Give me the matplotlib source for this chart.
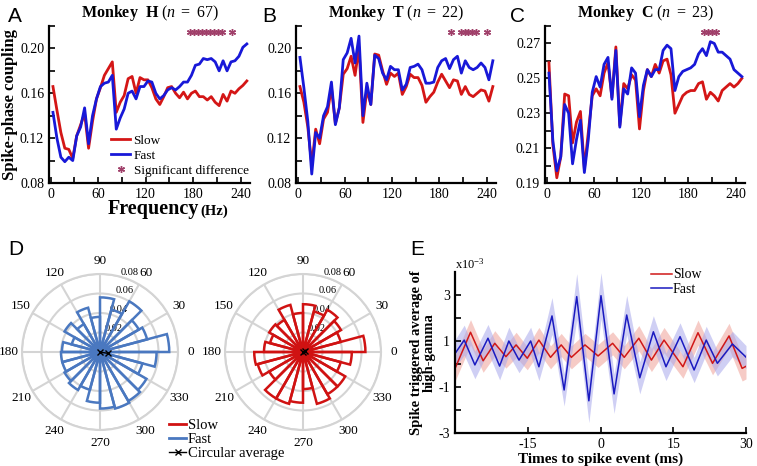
import matplotlib
matplotlib.use('Agg')
import matplotlib.pyplot as plt
import numpy as np
from matplotlib.lines import Line2D

# ###
# Data
# ###
freq = np.arange(3, 250, 5)

slow_h = [0.166, 0.145, 0.125, 0.111, 0.110, 0.102, 0.122, 0.132, 0.142, 0.111,
          0.135, 0.155, 0.165, 0.176, 0.182, 0.188, 0.143, 0.152, 0.158, 0.173,
          0.175, 0.160, 0.174, 0.172, 0.172, 0.165, 0.155, 0.150, 0.157, 0.165,
          0.166, 0.160, 0.156, 0.161, 0.155, 0.160, 0.162, 0.157, 0.157, 0.154,
          0.157, 0.152, 0.149, 0.159, 0.153, 0.162, 0.160, 0.164, 0.167, 0.171]
fast_h = [0.143, 0.120, 0.103, 0.099, 0.103, 0.100, 0.122, 0.130, 0.147, 0.115,
          0.140, 0.155, 0.166, 0.169, 0.170, 0.176, 0.128, 0.138, 0.146, 0.160,
          0.162, 0.155, 0.166, 0.166, 0.171, 0.170, 0.160, 0.155, 0.158, 0.163,
          0.165, 0.163, 0.166, 0.170, 0.170, 0.176, 0.185, 0.186, 0.191, 0.190,
          0.191, 0.188, 0.180, 0.189, 0.180, 0.188, 0.189, 0.193, 0.201, 0.204]
sig_h = [176, 181, 186, 191, 196, 201, 206, 211, 216, 229]

slow_t = [0.166, 0.152, 0.130, 0.096, 0.128, 0.115, 0.137, 0.143, 0.165, 0.133,
          0.147, 0.177, 0.182, 0.193, 0.176, 0.201, 0.134, 0.163, 0.150, 0.195,
          0.194, 0.180, 0.168, 0.178, 0.175, 0.178, 0.159, 0.166, 0.177, 0.174,
          0.174, 0.167, 0.152, 0.157, 0.161, 0.170, 0.177, 0.171, 0.165, 0.172,
          0.171, 0.159, 0.166, 0.159, 0.157, 0.160, 0.163, 0.162, 0.153, 0.166]
fast_t = [0.192, 0.165, 0.135, 0.088, 0.125, 0.120, 0.140, 0.148, 0.170, 0.132,
          0.147, 0.190, 0.196, 0.209, 0.187, 0.211, 0.140, 0.169, 0.150, 0.194,
          0.191, 0.178, 0.172, 0.184, 0.181, 0.181, 0.163, 0.168, 0.183, 0.184,
          0.186, 0.181, 0.169, 0.169, 0.170, 0.183, 0.189, 0.191, 0.182, 0.190,
          0.193, 0.178, 0.189, 0.183, 0.181, 0.183, 0.187, 0.183, 0.172, 0.189]
sig_t = [195, 207, 212, 217, 222, 227, 240]

slow_c = [0.259, 0.212, 0.193, 0.205, 0.241, 0.240, 0.213, 0.225, 0.231, 0.198,
          0.219, 0.240, 0.244, 0.240, 0.253, 0.259, 0.239, 0.268, 0.223, 0.247,
          0.244, 0.252, 0.249, 0.221, 0.243, 0.255, 0.251, 0.258, 0.253, 0.260,
          0.261, 0.252, 0.230, 0.235, 0.240, 0.242, 0.243, 0.243, 0.247, 0.248,
          0.238, 0.242, 0.240, 0.237, 0.243, 0.245, 0.247, 0.245, 0.247, 0.250]
fast_c = [0.253, 0.214, 0.197, 0.205, 0.235, 0.230, 0.201, 0.215, 0.226, 0.196,
          0.215, 0.242, 0.251, 0.245, 0.258, 0.262, 0.238, 0.266, 0.222, 0.244,
          0.241, 0.256, 0.253, 0.228, 0.246, 0.255, 0.251, 0.255, 0.255, 0.266,
          0.269, 0.267, 0.243, 0.251, 0.254, 0.255, 0.256, 0.258, 0.264, 0.267,
          0.263, 0.271, 0.270, 0.265, 0.265, 0.263, 0.261, 0.255, 0.253, 0.251]
sig_c = [200, 205, 210, 215]

# D: phase histograms, 24 bins of 15 deg
bin_deg = np.arange(7.5, 360, 15)
rose_fast = [0.071, 0.050, 0.046, 0.060, 0.045, 0.056, 0.036, 0.047, 0.033, 0.042, 0.030, 0.039,
             0.040, 0.040, 0.042, 0.045, 0.040, 0.052, 0.058, 0.060, 0.058, 0.055, 0.045, 0.058]
rose_slow = [0.064, 0.040, 0.045, 0.050, 0.043, 0.049, 0.040, 0.050, 0.038, 0.040, 0.035, 0.040,
             0.050, 0.048, 0.040, 0.055, 0.055, 0.052, 0.038, 0.055, 0.050, 0.050, 0.040, 0.050]
avg_fast = (350, 0.008)
avg_slow = (20, 0.002)

# E: spike triggered average (x1e-3)
t_fast = [-30.0, -28.1, -25.9, -23.2, -20.8, -18.9, -16.8, -14.4, -12.7, -10.0, -7.5, -4.9, -2.4,
          0.1, 2.8, 5.4, 8.1, 10.9, 13.5, 16.4, 19.3, 21.8, 24.1, 27.2, 30.0]
sta_fast = [0.45, 1.04, -0.04, 1.12, -0.09, 1.0, 0.17, 1.0, -0.12, 2.09, -1.13, 2.93, -1.6,
            2.97, -1.3, 2.13, -0.6, 1.4, -0.12, 1.19, -0.26, 1.04, 0.03, 0.87, 0.30]
sem_fast = [0.6, 0.65, 0.6, 0.6, 0.6, 0.6, 0.55, 0.6, 0.6, 0.8, 0.7, 1.0, 0.95,
            1.0, 0.85, 0.85, 0.7, 0.7, 0.6, 0.6, 0.55, 0.6, 0.55, 0.55, 0.5]
t_slow = [-30.0, -26.8, -24.2, -21.8, -19.5, -17.4, -15.1, -12.7, -10.3, -8.1, -6.0, -3.2,
          -0.5, 2.5, 4.9, 7.9, 10.5, 13.1, 17.0, 20.1, 23.1, 26.5, 29.2, 30.0]
sta_slow = [-0.2, 1.38, 0.14, 0.9, 0.32, 0.83, 0.25, 1.04, 0.29, 0.83, 0.29, 0.83,
            0.35, 0.9, 0.29, 1.12, 0.17, 1.04, -0.12, 1.36, 0.03, 1.22, -0.19, -0.1]
sem_slow = [0.55, 0.55, 0.5, 0.55, 0.5, 0.55, 0.5, 0.55, 0.5, 0.5, 0.5, 0.5,
            0.5, 0.5, 0.5, 0.55, 0.5, 0.55, 0.5, 0.55, 0.5, 0.55, 0.55, 0.55]

# ###
# Style
# ###
COLOR_SLOW = '#d41616'
COLOR_FAST = '#1818d8'
COLOR_SIG = '#a0406a'
COLOR_ROSE_FAST = '#4a78c0'
COLOR_ROSE_SLOW = '#d01212'
SERIF = 'Liberation Serif'
SANS = 'Liberation Sans'

plt.rcParams['font.family'] = SERIF
plt.rcParams['axes.unicode_minus'] = False
plt.rcParams['mathtext.fontset'] = 'custom'
plt.rcParams['mathtext.rm'] = SERIF
plt.rcParams['mathtext.it'] = SERIF + ':italic'
plt.rcParams['mathtext.bf'] = SERIF + ':bold'

W, H = 757.0, 466.0


def box(left, top, right, bottom):
    return [left / W, 1 - bottom / H, (right - left) / W, (bottom - top) / H]


def style_axes(ax):
    for s in ['top', 'right']:
        ax.spines[s].set_visible(False)
    for s in ['left', 'bottom']:
        ax.spines[s].set_linewidth(1.6)
    ax.tick_params(which='both', direction='in', width=1.2, labelsize=10, length=4)


def draw_line_panel(ax, slow, fast, sig, ylim, yticks, yminor, sig_y, title):
    ax.plot(freq, slow, color=COLOR_SLOW, linewidth=2.0)
    ax.plot(freq, fast, color=COLOR_FAST, linewidth=2.0)
    ax.plot(sig, [sig_y] * len(sig), linestyle='none', marker=(6, 2, 0),
            markersize=5, color=COLOR_SIG, markeredgewidth=1.0)
    ax.set_xlim(-2, 252)
    ax.set_ylim(*ylim)
    ax.set_xticks([0, 60, 120, 180, 240])
    ax.set_xticks([30, 90, 150, 210], minor=True)
    ax.set_yticks(yticks)
    ax.set_yticklabels(['%.2f' % v for v in yticks])
    ax.set_yticks(yminor, minor=True)
    style_axes(ax)
    ax.text(0.5, 1.06, title, transform=ax.transAxes, ha='center', va='baseline', fontsize=11.5)


fig = plt.figure(figsize=(7.57, 4.66), dpi=100)

ax_a = fig.add_axes(box(49, 26, 250, 183))
draw_line_panel(ax_a, slow_h, fast_h, sig_h, (0.08, 0.22), [0.08, 0.12, 0.16, 0.20],
                [0.10, 0.14, 0.18, 0.22], 0.215,
                r'$\mathbf{Monkey}$  $\mathbf{H}$ $\mathit{(n\ =\ 67)}$')
ax_a.set_ylabel('Spike-phase coupling', fontsize=12, fontweight='bold')
ax_a.yaxis.set_label_coords(-0.155, 0.5)
ax_a.text(0.745, -0.2, 'Frequency', transform=ax_a.transAxes, ha='right', va='baseline',
          fontsize=14.5, fontweight='bold')
ax_a.text(0.752, -0.2, '(Hz)', transform=ax_a.transAxes, ha='left', va='baseline',
          fontsize=10.5, fontweight='bold')
leg_handles = [Line2D([], [], color=COLOR_SLOW, linewidth=2.0),
               Line2D([], [], color=COLOR_FAST, linewidth=2.0),
               Line2D([], [], linestyle='none', marker=(6, 2, 0), markersize=5,
                      color=COLOR_SIG, markeredgewidth=1.0)]
ax_a.legend(leg_handles, ['Slow', 'Fast', 'Significant difference'], loc='lower left',
            bbox_to_anchor=(0.27, -0.01), frameon=False, fontsize=9.5, handlelength=1.45,
            handletextpad=0.25, labelspacing=0.2, borderaxespad=0.2)

ax_b = fig.add_axes(box(296, 26, 496, 183))
draw_line_panel(ax_b, slow_t, fast_t, sig_t, (0.08, 0.22), [0.08, 0.12, 0.16, 0.20],
                [0.10, 0.14, 0.18, 0.22], 0.215,
                r'$\mathbf{Monkey}$  $\mathbf{T}$ $\mathit{(n\ =\ 22)}$')

ax_c = fig.add_axes(box(545, 26, 745, 183))
draw_line_panel(ax_c, slow_c, fast_c, sig_c, (0.19, 0.28), [0.19, 0.21, 0.23, 0.25, 0.27],
                [0.20, 0.22, 0.24, 0.26, 0.28], 0.2765,
                r'$\mathbf{Monkey}$  $\mathbf{C}$ $\mathit{(n\ =\ 23)}$')

# ###
# D: polar histograms
# ###
def draw_rose(ax, values, color, avg):
    theta = np.deg2rad(bin_deg)
    ax.bar(theta, values, width=np.deg2rad(15), bottom=0, facecolor='none',
           edgecolor=color, linewidth=1.8, zorder=3)
    ax.plot([0, np.deg2rad(avg[0])], [0, avg[1]], color='k', linewidth=1.0,
            marker='x', markersize=4, zorder=4)
    ax.set_ylim(0, 0.08)
    ax.set_yticks([0.02, 0.04, 0.06, 0.08])
    ax.set_yticklabels(['0.02', '0.04', '0.06', '0.08'], fontsize=7.5)
    ax.set_rlabel_position(75)
    ax.set_thetagrids(np.arange(0, 360, 30), [str(a) for a in range(0, 360, 30)], fontsize=9.5)
    ax.tick_params(axis='x', pad=-1)
    ax.grid(color='#d4d4d4', linewidth=1.5)
    ax.spines['polar'].set_color('#d4d4d4')
    ax.spines['polar'].set_linewidth(1.5)


ax_d1 = fig.add_axes(box(22, 274, 178, 430), projection='polar')
draw_rose(ax_d1, rose_fast, COLOR_ROSE_FAST, avg_fast)
ax_d2 = fig.add_axes(box(225, 274, 381, 430), projection='polar')
draw_rose(ax_d2, rose_slow, COLOR_ROSE_SLOW, avg_slow)

d_handles = [Line2D([], [], color=COLOR_ROSE_SLOW, linewidth=2.0),
             Line2D([], [], color=COLOR_ROSE_FAST, linewidth=2.0),
             Line2D([], [], color='k', linewidth=1.0, marker='x', markersize=4)]
fig.legend(d_handles, ['Slow', 'Fast', 'Circular average'], loc='upper left',
           bbox_to_anchor=(163 / W, 1 - 413 / H), frameon=False, fontsize=10.5,
           handlelength=1.2, handletextpad=0.1, labelspacing=0.05, borderaxespad=0)

# ###
# E: spike triggered average
# ###
ax_e = fig.add_axes(box(455, 272, 746, 433))
ax_e.fill_between(t_slow, np.array(sta_slow) - np.array(sem_slow),
                  np.array(sta_slow) + np.array(sem_slow), color='#f2b0a8', alpha=0.65, linewidth=0)
ax_e.fill_between(t_fast, np.array(sta_fast) - np.array(sem_fast),
                  np.array(sta_fast) + np.array(sem_fast), color='#a8a8ec', alpha=0.55, linewidth=0)
ax_e.plot(t_slow, sta_slow, color='#d01818', linewidth=1.1, label='Slow')
ax_e.plot(t_fast, sta_fast, color='#1a1ac0', linewidth=1.1, label='Fast')
ax_e.set_xlim(-30, 30)
ax_e.set_ylim(-3, 4)
ax_e.set_xticks([-15, 0, 15, 30])
ax_e.set_yticks([-3, -1, 1, 3])
ax_e.set_yticks([-2, 0, 2], minor=True)
style_axes(ax_e)
ax_e.set_xlabel('Times to spike event (ms)', fontsize=11, fontweight='bold', labelpad=1)
ax_e.set_ylabel('Spike triggered average of\nhigh-gamma', fontsize=10.5, fontweight='bold',
                linespacing=1.0)
ax_e.yaxis.set_label_coords(-0.066, 0.5)
ax_e.text(0.0, 1.0, r'x10$^{-3}$', transform=ax_e.transAxes, ha='left', va='bottom', fontsize=9)
ax_e.legend(loc='upper right', bbox_to_anchor=(0.89, 1.1), frameon=False, fontsize=10,
            handlelength=1.45, handletextpad=0.1, labelspacing=0.1)

# panel letters
for letter, x, y in [('A', 8, 17), ('B', 262, 17), ('C', 510, 17), ('D', 8, 250), ('E', 410, 250)]:
    fig.text(x / W, 1 - y / H, letter, fontsize=15, family=SANS, ha='left', va='center')

plt.savefig('out.png', dpi=100)
